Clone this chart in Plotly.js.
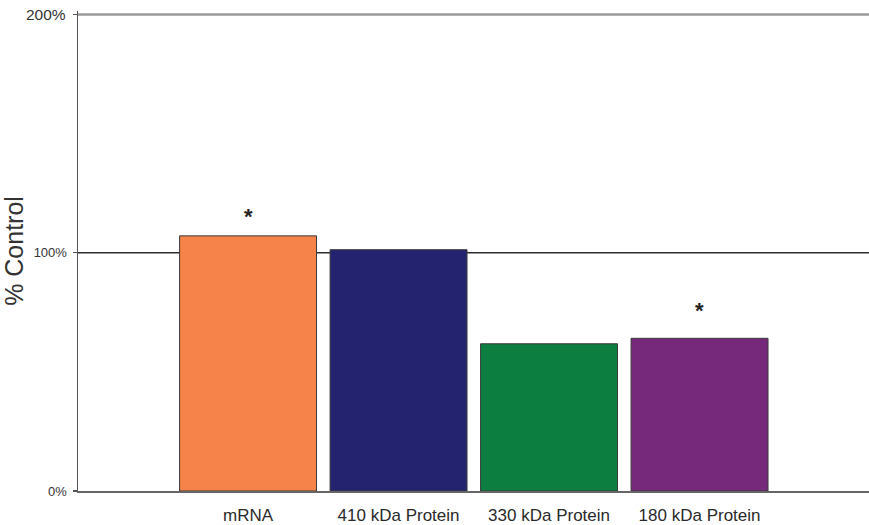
<!DOCTYPE html>
<html>
<head>
<meta charset="utf-8">
<script src="https://cdn.plot.ly/plotly-3.0.1.min.js"></script>
<style>html,body{margin:0;padding:0;background:#fff;}#chart{width:869px;height:525px;}</style>
</head>
<body>
<div id="chart"></div>
<script>
// Data
const categories = ["mRNA", "410 kDa Protein", "330 kDa Protein", "180 kDa Protein"];
const values = [107.1, 101.3, 61.8, 64.1];
const barColors = ["#F5834A", "#24236F", "#0C7E40", "#76297A"];
const sigLabels = ["*", "", "", "*"];
const sigLevels = [116.6, null, null, 77.2];
const yTickVals = [0, 100, 200];
const yTickText = ["0%", "100%", "200%"];

const trace = {
  type: "bar",
  x: categories,
  y: values,
  marker: { color: barColors, line: { color: "#3a3a3a", width: 1 } },
  hoverinfo: "none"
};

const FONT = "Liberation Sans, Arial, sans-serif";
const annotations = [];
categories.forEach((c, i) => {
  if (sigLabels[i]) {
    annotations.push({
      x: c, y: sigLevels[i], xref: "x", yref: "y",
      text: "<b>" + sigLabels[i] + "</b>", showarrow: false,
      font: { family: FONT, size: 22, color: "#222" },
      yanchor: "middle", yshift: -3
    });
  }
});
// top tick label drawn larger, as in the reference
annotations.push({
  x: 0, xref: "paper", y: yTickVals[2], yref: "y",
  text: yTickText[2], showarrow: false,
  xanchor: "right", yanchor: "middle", xshift: -10,
  font: { family: FONT, size: 15.5, color: "#333" }
});

const layout = {
  width: 869, height: 525,
  margin: { l: 78, r: 0, t: 11.4, b: 33.5, pad: 0 },
  paper_bgcolor: "#fff", plot_bgcolor: "#fff",
  showlegend: false,
  bargap: 0.09,
  font: { family: FONT, color: "#333" },
  xaxis: {
    type: "category",
    range: [-1.13, 4.126],
    showgrid: false, zeroline: false,
    showline: true, linecolor: "#666", linewidth: 1.5,
    ticks: "", ticklabelstandoff: 8,
    tickfont: { size: 17, color: "#2a2a2a" }
  },
  yaxis: {
    range: [0, 201.5],
    tickvals: yTickVals, ticktext: [yTickText[0], yTickText[1], ""],
    showgrid: false, zeroline: false,
    showline: true, linecolor: "#555", linewidth: 1.5,
    ticks: "outside", ticklen: 4, tickcolor: "#555", tickwidth: 1.3,
    ticklabelstandoff: 3,
    tickfont: { size: 13, color: "#333" },
    title: { text: "% Control", font: { size: 25, color: "#333" }, standoff: 12 }
  },
  shapes: [
    { type: "line", xref: "paper", yref: "y", x0: 0, x1: 1, y0: yTickVals[1], y1: yTickVals[1],
      line: { color: "#2e2e2e", width: 1.4 }, layer: "below" },
    { type: "line", xref: "paper", yref: "y", x0: 0, x1: 1, y0: yTickVals[2], y1: yTickVals[2],
      line: { color: "#999", width: 2.5 }, layer: "below" }
  ],
  annotations: annotations
};

Plotly.newPlot("chart", [trace], layout, { displayModeBar: false, staticPlot: true });
</script>
</body>
</html>
